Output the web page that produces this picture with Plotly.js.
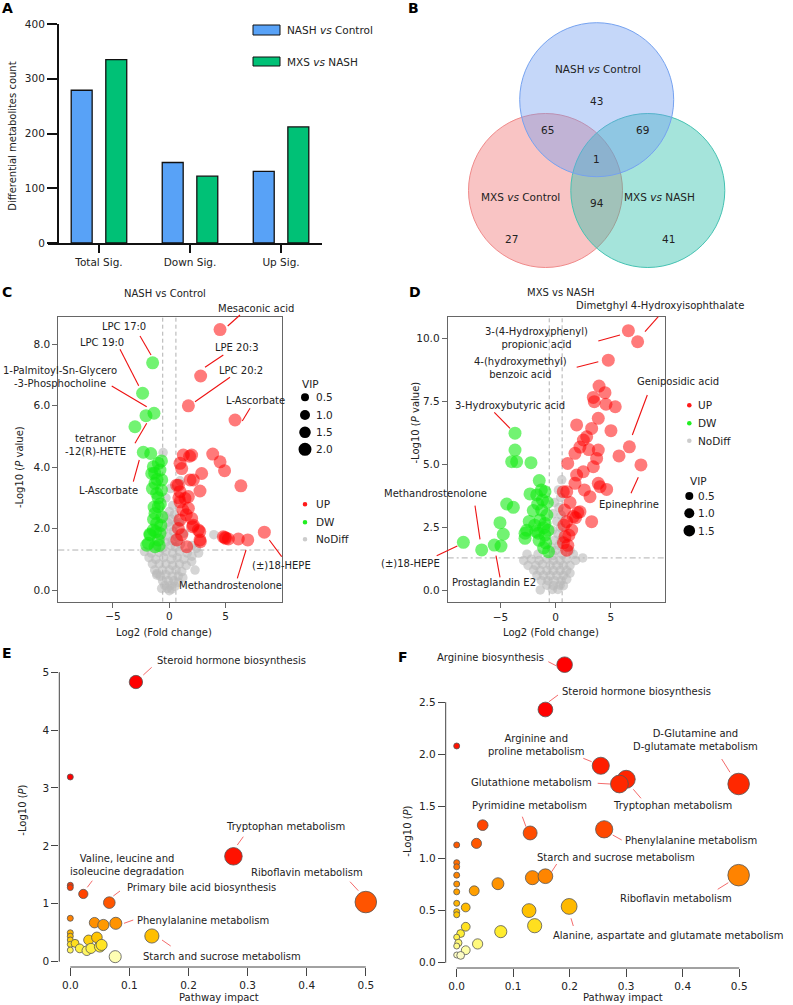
<!DOCTYPE html>
<html><head><meta charset="utf-8">
<script src="https://cdn.plot.ly/plotly-3.0.1.min.js"></script>
<style>html,body{margin:0;padding:0;background:#fff}#chart{width:793px;height:1005px}</style>
</head><body><div id="chart"></div>
<script>
// ================= DATA =================
// Panel A
const barCategories = ['Total Sig.', 'Down Sig.', 'Up Sig.'];
const barSeriesNames = ['NASH <i>vs</i> Control', 'MXS <i>vs</i> NASH'];
const nashVsControlCounts = [279, 147, 131];
const mxsVsNashCounts = [335, 122, 212];

// Panel B (Venn)
const vennSetNames = ['NASH <i>vs</i> Control', 'MXS <i>vs</i> Control', 'MXS <i>vs</i> NASH'];
// order: NASH-only, NASH&MXSctl, NASH&MXSNASH, all three, MXSctl&MXSNASH, MXSctl-only, MXSNASH-only
const vennCounts = [43, 65, 69, 1, 94, 27, 41];

// Panel C volcano: NASH vs Control
const cUpX = [4.5,2.78,1.69,5.83,8.43,3.85,4.5,4.9,6.35,2.87,2.72,1.24,1.98,1.8,0.95,1.1,1.84,0.8,0.95,0.85,1.39,0.95,1.69,1.2,0.95,1.98,2.13,1.5,2.58,2.72,1.54,0.66,0.8,1.1,4.79,4.94,5.24,5.0,6.12,6.96,2.7,2.75,2.07,1.69,2.13,0.65];
const cUpY = [8.47,6.96,5.99,5.53,1.88,4.42,4.17,3.88,3.39,3.79,3.22,4.39,4.39,4.35,4.12,3.95,3.58,3.41,3.2,3.0,2.98,2.87,2.66,2.6,2.28,2.33,2.11,2.45,1.95,1.63,1.41,1.63,2.0,1.8,1.73,1.71,1.66,1.68,1.66,1.63,1.9,1.57,2.06,3.04,3.58,3.41];
const cDwX = [-1.48,-2.37,-2.07,-1.36,-3.05,-2.31,-1.65,-0.98,-1.42,-1.56,-0.83,-1.27,-0.67,-1.12,-0.7,-0.98,-1.27,-0.67,-1.12,-1.42,-1.71,-0.83,-1.86,-1.27,-0.98,-1.72,-2.0,-1.3,-1.0,-0.8,-1.4,-0.75,-1.2,-0.9,-1.5,-1.35,-0.7,-1.1];
const cDwY = [7.39,6.40,5.67,5.75,5.31,4.48,4.44,4.12,4.01,3.79,3.9,3.47,3.58,3.14,3.25,2.71,2.49,2.38,2.17,1.95,1.79,1.84,1.52,1.41,1.63,1.82,1.46,3.8,3.0,2.8,2.3,2.1,1.9,1.45,3.3,2.7,4.2,3.6];
const cNoX = [-0.55,0.95,0.1,-0.3,0.3,0.0,-0.4,0.45,0.2,-0.15,0.6,0.9,0.05,-0.5,0.35,1.3,-0.8,0.7,-0.1,0.25,-0.35,1.0,-1.2,0.55,-0.65,0.1,2.0,3.95,2.4,
  -2.2,-1.6,-0.9,-0.3,0.3,0.9,1.6,2.6,2.0,-1.8,-1.2,-0.5,0.15,0.7,1.3,1.98,-1.5,-0.9,-0.3,0.3,0.9,1.5,2.28,-1.12,-1.3,-0.6,0.0,0.6,1.1,
  -0.8,-0.3,0.25,0.8,1.2,-0.6,-0.1,0.4,0.8,-0.4,0.1,0.5,-0.2,0.2,0.0,-0.68,-1.1];
const cNoY = [4.47,3.55,3.3,3.0,2.75,2.55,2.4,2.45,2.3,2.2,2.15,2.2,2.05,1.95,1.9,1.85,1.7,1.72,1.75,1.6,1.55,1.5,1.42,1.4,1.35,1.45,1.45,1.8,1.35,
  1.25,1.2,1.22,1.25,1.2,1.25,1.2,1.2,1.1,1.05,1.0,1.05,1.0,1.05,1.0,0.93,0.85,0.85,0.85,0.8,0.85,0.8,0.65,0.49,0.65,0.65,0.65,0.65,0.6,
  0.45,0.5,0.45,0.45,0.4,0.3,0.3,0.3,0.25,0.15,0.15,0.12,0.05,0.03,-0.02,0.05,0.54];

// Panel D volcano: MXS vs NASH
const dUpX = [6.59,7.43,4.77,3.93,4.47,3.41,3.5,4.56,5.4,3.86,1.9,3.26,5.01,2.81,2.51,3.86,1.75,6.68,5.74,3.71,1.09,3.41,7.73,2.5,1.9,3.86,4.62,1.75,1.0,3.11,2.2,1.6,1.0,3.26,1.45,0.84,1.0,0.7,4.02,0.69,1.3,0.8,1.2,1.8,0.75,1.1,2.0,2.6,3.0,2.2];
const dUpY = [10.32,9.88,9.15,8.12,7.86,7.67,7.5,7.4,7.3,6.84,6.58,6.44,6.35,6.11,5.98,5.58,5.45,5.71,5.35,5.25,5.05,4.92,4.99,4.72,4.59,4.26,4.02,4.26,3.93,3.73,3.13,2.94,2.74,2.74,2.41,2.14,1.61,1.9,4.13,3.93,3.5,3.2,2.2,2.9,2.6,1.8,3.1,4.0,5.6,5.7];
const dDwX = [-3.69,-3.69,-3.99,-3.54,-2.24,-1.49,-0.97,-2.33,-1.72,-4.44,-3.84,-1.63,-1.27,-2.03,-1.42,-0.97,-5.05,-4.75,-2.78,-1.57,-2.78,-0.97,-4.96,-5.57,-6.71,-8.37,-0.65,-2.63,-1.2,-0.8,-1.9,-1.1,-0.75,-1.5,-0.9,-1.3,-0.7,-2.4,-1.8,-1.1];
const dDwY = [6.25,5.58,5.12,5.12,5.08,4.37,3.93,3.84,3.8,3.44,3.31,3.44,3.2,3.18,2.81,2.67,2.7,2.24,2.28,2.28,2.08,2.2,1.77,1.81,1.62,1.92,1.55,2.4,3.6,3.0,2.6,2.5,3.5,2.0,1.9,4.0,2.4,2.75,2.35,1.7];
const dNoX = [0.55,0.25,0.45,-0.1,0.3,0.5,-0.25,0.1,0.45,-0.3,0.2,0.5,-0.1,0.3,-0.4,0.0,1.3,0.6,-0.2,2.45,-1.6,-2.6,1.6,
  -2.9,-2.2,-1.5,-0.8,-0.2,0.4,1.0,1.8,-2.5,-1.8,-1.2,-0.5,0.1,0.7,1.3,-2.0,-1.4,-0.8,-0.2,0.4,1.0,1.3,
  -1.7,-1.1,-0.5,0.1,0.7,-1.3,-0.7,-0.1,0.5,1.0,-0.8,-0.2,0.4,0.7,-0.3,0.2,-1.4];
const dNoY = [4.4,4.0,3.7,3.5,3.3,3.0,3.05,2.75,2.5,2.4,2.25,2.0,2.0,1.8,1.7,1.6,1.6,1.45,1.4,1.3,1.45,1.45,1.45,
  1.2,1.25,1.2,1.25,1.2,1.2,1.25,1.2,1.0,1.0,1.05,1.0,1.0,1.0,1.0,0.82,0.8,0.8,0.8,0.8,0.8,0.7,
  0.6,0.6,0.6,0.6,0.6,0.4,0.4,0.4,0.4,0.45,0.22,0.2,0.22,0.2,0.05,0.05,0.03];

// Panel E pathway: NASH vs Control
const eImpact = [0.111,0,0.276,0.5,0,0,0.022,0.066,0,0.041,0.056,0.077,0.138,0,0,0,0,0,0.008,0.031,0.045,0.016,0.028,0.035,0.05,0.053,0.076];
const eLogP   = [4.83,3.19,1.82,1.03,1.32,1.28,1.17,1.02,0.75,0.674,0.634,0.663,0.444,0.5,0.44,0.375,0.3,0.2,0.317,0.375,0.42,0.23,0.19,0.23,0.26,0.29,0.087];

// Panel F pathway: MXS vs NASH
const fImpact = [0.191,0.157,0,0.255,0.30,0.288,0.499,0.046,0.130,0.261,0.035,0,0,0,0,0,0,0,0,0,0.073,0.031,0.134,0.157,0.499,0.199,0.128,0.016,0.138,0.078,0.016,0.007,0.037,0,0.003,0.016,0,0,0.007];
const fLogP   = [2.86,2.43,2.08,1.89,1.76,1.715,1.715,1.32,1.245,1.28,1.145,1.13,0.96,0.92,0.84,0.755,0.68,0.57,0.49,0.46,0.758,0.69,0.816,0.83,0.84,0.54,0.5,0.53,0.355,0.298,0.345,0.28,0.18,0.245,0.19,0.12,0.16,0.074,0.07];

const fcThreshold = 0.585;   // |log2 FC|
const pThreshold = 1.301;    // -log10(0.05)

// ================= LAYOUT HELPERS =================
const W = 793, H = 1005;
const FONT = '"DejaVu Sans", Verdana, sans-serif';
const px = x => x / W;
const py = y => 1 - y / H;
function txt(x, y, text, o) {
  return Object.assign({xref:'paper', yref:'paper', x:px(x), y:py(y), text:text, showarrow:false,
    xanchor:'center', yanchor:'middle', font:{family:FONT, size:10, color:'#222'}}, o || {});
}
function seg(x0, y0, x1, y1, color, w) {
  return {type:'line', xref:'paper', yref:'paper', x0:px(x0), y0:py(y0), x1:px(x1), y1:py(y1), line:{color:color, width:w}};
}
function circ(cx, cy, r, fill, lc, lw) {
  return {type:'circle', xref:'paper', yref:'paper', x0:px(cx-r), x1:px(cx+r), y0:py(cy+r), y1:py(cy-r),
    fillcolor:fill, line:{color:lc || fill, width:lw || 0}};
}

// ================= TRACES =================
const traces = [];
traces.push({type:'bar', name:barSeriesNames[0], x:barCategories, y:nashVsControlCounts, xaxis:'x', yaxis:'y',
  width:0.23, offset:-0.305, marker:{color:'#58a2f7', line:{color:'#111', width:1.3}}, showlegend:false});
traces.push({type:'bar', name:barSeriesNames[1], x:barCategories, y:mxsVsNashCounts, xaxis:'x', yaxis:'y',
  width:0.23, offset:0.075, marker:{color:'#00c176', line:{color:'#111', width:1.3}}, showlegend:false});

// placeholder trace for Venn axes
traces.push({type:'scatter', x:[400], y:[0], xaxis:'x2', yaxis:'y2', mode:'markers', marker:{size:1, color:'rgba(0,0,0,0)'}, showlegend:false, hoverinfo:'skip'});

function volcano(noX, noY, dwX, dwY, upX, upY, xa, ya) {
  return [
    {type:'scatter', mode:'markers', x:noX, y:noY, xaxis:xa, yaxis:ya, name:'NoDiff', showlegend:false,
      marker:{size:9.5, color:'rgba(185,185,185,0.6)', opacity:1}, cliponaxis:false},
    {type:'scatter', mode:'markers', x:dwX, y:dwY, xaxis:xa, yaxis:ya, name:'DW', showlegend:false,
      marker:{size:13, color:'rgba(20,235,20,0.6)', opacity:1}, cliponaxis:false},
    {type:'scatter', mode:'markers', x:upX, y:upY, xaxis:xa, yaxis:ya, name:'UP', showlegend:false,
      marker:{size:13, color:'rgba(255,0,0,0.52)', opacity:1}, cliponaxis:false}
  ];
}
traces.push(...volcano(cNoX, cNoY, cDwX, cDwY, cUpX, cUpY, 'x3', 'y3'));
traces.push(...volcano(dNoX, dNoY, dDwX, dDwY, dUpX, dUpY, 'x4', 'y4'));

const heat = [[0,'#fbfbea'],[0.05,'#ffffa8'],[0.12,'#ffee30'],[0.2,'#ffc400'],[0.3,'#ff9a00'],[0.4,'#ff6c00'],[0.55,'#ff4400'],[0.75,'#ff2200'],[1,'#ff0000']];
function pathway(xs, ys, xa, ya, cmax) {
  return {type:'scatter', mode:'markers', x:xs, y:ys, xaxis:xa, yaxis:ya, showlegend:false, cliponaxis:false,
    marker:{size:xs.map(v => 6 + 22*Math.sqrt(v)), opacity:1, color:ys, colorscale:heat, cmin:0, cmax:cmax,
      showscale:false, line:{color:'#555', width:0.8}}};
}
traces.push(pathway(eImpact, eLogP, 'x5', 'y5', 2.1));
traces.push(pathway(fImpact, fLogP, 'x6', 'y6', 2.4));

// ================= AXES =================
const tickF = {family:FONT, size:10.5, color:'#222'};
const boxAxis = (dom, range, anchor, tv, fmt) => ({domain:dom, range:range, anchor:anchor, showline:true, mirror:true,
  linecolor:'#666', linewidth:1, ticks:'outside', ticklen:5, tickcolor:'#666', tickvals:tv, tickformat:fmt,
  showgrid:false, zeroline:false, tickfont:tickF});
const openAxis = (dom, range, anchor, tv, fmt, tl) => ({domain:dom, range:range, anchor:anchor, showline:false,
  ticks:'outside', ticklen:tl, tickcolor:'#444', tickvals:tv, tickformat:fmt, showgrid:false, zeroline:false, tickfont:tickF});

const layout = {
  width:W, height:H, margin:{l:0, r:0, t:0, b:0}, paper_bgcolor:'#fff', plot_bgcolor:'rgba(0,0,0,0)',
  font:{family:FONT, size:10, color:'#222'}, barmode:'overlay', showlegend:false,
  xaxis:{domain:[px(48), px(322)], range:[-0.56, 2.45], anchor:'y', type:'category', showline:true, linecolor:'#111',
    linewidth:2, ticks:'outside', ticklen:8, tickwidth:2, tickcolor:'#111', showgrid:false, zeroline:false, tickfont:tickF},
  yaxis:{domain:[py(243), py(24)], range:[0, 400], anchor:'free', position:px(58), showline:true, linecolor:'#111',
    linewidth:2, ticks:'outside', ticklen:10, tickwidth:2, tickcolor:'#111', dtick:100, showgrid:false, zeroline:false, tickfont:tickF},
  xaxis2:{domain:[px(400), 1], range:[400, 793], anchor:'y2', visible:false, fixedrange:true},
  yaxis2:{domain:[py(270), 1], range:[270, 0], anchor:'x2', visible:false, fixedrange:true},
  xaxis3:boxAxis([px(58.3), px(281.7)], [-9.85, 9.97], 'y3', [-5,0,5], 'd'),
  yaxis3:boxAxis([py(601.7), py(317.3)], [-0.38, 8.87], 'x3', [0,2,4,6,8], '.1f'),
  xaxis4:boxAxis([px(447.7), px(665)], [-9.79, 9.91], 'y4', [-5,0,5], 'd'),
  yaxis4:boxAxis([py(602.3), py(317.3)], [-0.46, 10.85], 'x4', [0,2.5,5,7.5,10], '.1f'),
  xaxis5:openAxis([px(59.3), px(380)], [-0.0186, 0.524], 'y5', [0,0.1,0.2,0.3,0.4,0.5], '.1f', 8),
  yaxis5:openAxis([py(967), py(650)], [-0.0915, 5.383], 'x5', [0,1,2,3,4,5], 'd', 7),
  xaxis6:openAxis([px(445.7), px(760)], [-0.01947, 0.5368], 'y6', [0,0.1,0.2,0.3,0.4,0.5], '.1f', 8),
  yaxis6:openAxis([py(968), py(640)], [-0.0509, 3.097], 'x6', [0,0.5,1,1.5,2,2.5], '.1f', 7),
  shapes:[], annotations:[]
};
const S = layout.shapes, A = layout.annotations;

// ---- Panel A legend & titles
S.push({type:'rect', xref:'paper', yref:'paper', x0:px(253), x1:px(280), y0:py(35), y1:py(25), fillcolor:'#58a2f7', line:{color:'#111', width:1}});
S.push({type:'rect', xref:'paper', yref:'paper', x0:px(253), x1:px(280), y0:py(66), y1:py(57), fillcolor:'#00c176', line:{color:'#111', width:1}});
A.push(txt(285, 30.5, barSeriesNames[0], {xanchor:'left', font:{family:FONT, size:10.5, color:'#222'}}));
A.push(txt(285, 61.5, barSeriesNames[1], {xanchor:'left', font:{family:FONT, size:10.5, color:'#222'}}));
A.push(txt(13, 136.7, 'Differential metabolites count', {textangle:-90, font:{family:FONT, size:10, color:'#222'}}));

// ---- Panel B Venn
const vennCircles = [ // cx, cy, r (in panel pixel units), fill, edge
  [545.5, 190.5, 77, 'rgba(240,100,100,0.38)', '#f08a8a'],
  [647.8, 190.5, 77, 'rgba(40,190,170,0.42)', '#45c2b2'],
  [596.7, 99.7, 77, 'rgba(110,155,240,0.40)', '#75a2f0']
];
vennCircles.forEach(c => S.push({type:'circle', xref:'x2', yref:'y2', x0:c[0]-c[2], x1:c[0]+c[2], y0:c[1]-c[2], y1:c[1]+c[2],
  fillcolor:c[3], line:{color:c[4], width:1}, layer:'below'}));
const vennSetPos = [[598, 69], [520, 196.7], [659.3, 196.7]];
const vennCountPos = [[596.7, 101], [547.3, 130], [642.7, 130], [596.7, 159.3], [596.7, 203.3], [511.7, 239.3], [668.7, 239.3]];
vennSetNames.forEach((t, i) => A.push({xref:'x2', yref:'y2', x:vennSetPos[i][0], y:vennSetPos[i][1], text:t, showarrow:false,
  font:{family:FONT, size:10.5, color:'#222'}}));
vennCounts.forEach((v, i) => A.push({xref:'x2', yref:'y2', x:vennCountPos[i][0], y:vennCountPos[i][1], text:String(v), showarrow:false,
  font:{family:FONT, size:10.5, color:'#222'}}));

// ---- threshold lines C & D
[['x3','y3'],['x4','y4']].forEach(([xa, ya]) => {
  [-fcThreshold, fcThreshold].forEach(v => S.push({type:'line', xref:xa, yref:ya+' domain', x0:v, x1:v, y0:0, y1:1,
    line:{color:'#b0b0b0', width:1, dash:'4px,3px'}, layer:'below'}));
  S.push({type:'line', xref:xa+' domain', yref:ya, x0:0, x1:1, y0:pThreshold, y1:pThreshold,
    line:{color:'#b0b0b0', width:1, dash:'6px,3px,2px,3px'}, layer:'below'});
});

// ---- E/F offset axis lines
S.push({type:'line', xref:'x5 domain', yref:'y5', x0:0, x1:0, y0:0, y1:5, line:{color:'#444', width:1}});
S.push({type:'line', xref:'x5', yref:'y5 domain', x0:0, x1:0.5, y0:0, y1:0, line:{color:'#444', width:1}});
S.push({type:'line', xref:'x6 domain', yref:'y6', x0:0, x1:0, y0:0, y1:2.5, line:{color:'#444', width:1}});
S.push({type:'line', xref:'x6', yref:'y6 domain', x0:0, x1:0.5, y0:0, y1:0, line:{color:'#444', width:1}});

// ---- panel letters
[['A',7,8],['B',413,8],['C',7,292],['D',415,292],['E',7,652.7],['F',403,657]].forEach(l =>
  A.push(txt(l[1], l[2], '<b>'+l[0]+'</b>', {font:{family:FONT, size:14, color:'#000'}})));

// ---- titles / axis titles
A.push(txt(165, 293.3, 'NASH vs Control'));
A.push(txt(560.7, 292.3, 'MXS vs NASH'));
A.push(txt(163.7, 632.7, 'Log2 (Fold change)'));
A.push(txt(550.7, 632.3, 'Log2 (Fold change)'));
A.push(txt(20, 467, '-Log10 (<i>P</i> value)', {textangle:-90}));
A.push(txt(415, 422.5, '-Log10 (<i>P</i> value)', {textangle:-90}));
A.push(txt(21.7, 810, '-Log10 (<i>P</i>)', {textangle:-90}));
A.push(txt(406.7, 831, '-Log10 (<i>P</i>)', {textangle:-90}));
A.push(txt(219, 997.7, 'Pathway impact'));
A.push(txt(622.7, 997.7, 'Pathway impact'));

// ---- volcano legends
function volcLegend(dotX, txtX, colorYs, vipTitle, vipYs, vipLabels, vipR) {
  const cols = [['UP','#ff1a1a'],['DW','#22ee22'],['NoDiff','#cccccc']];
  cols.forEach((c, i) => { S.push(circ(dotX, colorYs[i], 2.3, c[1])); A.push(txt(txtX, colorYs[i], c[0], {xanchor:'left', font:{family:FONT, size:10.5, color:'#222'}})); });
  A.push(txt(vipTitle[0], vipTitle[1], 'VIP', {font:{family:FONT, size:10.5, color:'#222'}}));
  vipYs.forEach((y, i) => { S.push(circ(dotX, y, vipR[i], '#000')); A.push(txt(txtX, y, vipLabels[i], {xanchor:'left', font:{family:FONT, size:10.5, color:'#222'}})); });
}
volcLegend(305, 313.5, [504.3, 522.3, 539.3], [310, 384], [397.3, 415, 432.3, 449.3], ['0.5','1.0','1.5','2.0'], [4, 5, 5.8, 6.5]);
volcLegend(689.3, 695.5, [405.3, 423.3, 440.7], [698.3, 480.7], [496, 513.3, 530.7], ['0.5','1.0','1.5'], [4, 5, 5.8]);

// ---- labels with leader lines
const cLabels = [
  ['Mesaconic acid', 255.7, 309, 240, 315, 227.7, 326],
  ['LPC 17:0', 124, 326.7, 140, 336, 151, 355],
  ['LPC 19:0', 102.3, 342.7, 120, 349.3, 138.7, 385.7],
  ['1-Palmitoyl-Sn-Glycero<br>-3-Phosphocholine', 59.5, 377, 111.7, 386, 146.7, 406.7],
  ['LPE 20:3', 236.7, 347.7, 223.3, 355, 205, 367.3],
  ['LPC 20:2', 241, 370, 230, 377.3, 195, 401.7],
  ['L-Ascorbate', 255.7, 401, 250, 408.3, 242.3, 421],
  ['tetranor<br>-12(R)-HETE', 95, 445.5, 135, 443.3, 146.7, 423.3],
  ['L-Ascorbate', 108.3, 490, 133.3, 481.7, 139.3, 460],
  ['(±)18-HEPE', 281, 565, 281.7, 556.7, 269.3, 540],
  ['Methandrostenolone', 230.7, 585, 237.3, 578.3, 246, 550]
];
const dLabels = [
  ['Dimetghyl 4-Hydroxyisophthalate', 660, 305, 658.3, 316.7, 645, 331.7],
  ['3-(4-Hydroxyphenyl)<br>propionic acid', 536.7, 338, 598.3, 341, 620, 335],
  ['4-(hydroxymethyl)<br>benzoic acid', 520, 367.5, 576.7, 367.3, 598.3, 361.7],
  ['Geniposidic acid', 678.3, 381.7, 647.3, 395, 632.3, 435],
  ['3-Hydroxybutyric acid', 510, 405, 494.3, 412.3, 510, 428.3],
  ['Epinephrine', 629.3, 504.3, 631, 493.3, 638.3, 477.3],
  ['Methandrostenolone', 435.5, 493.3, 475, 505.7, 480, 539.3],
  ['(±)18-HEPE', 411, 563.3, 436.7, 555.7, 457.3, 546],
  ['Prostaglandin E2', 494.3, 582.7, 500, 577.3, 496, 555.7]
];
const eLabels = [
  ['Steroid hormone biosynthesis', 231, 660.7, 151.7, 667.3, 143.3, 675],
  ['Tryptophan metabolism', 285.7, 826.7, 243.3, 836.7, 237.3, 845],
  ['Riboflavin metabolism', 306.7, 872.3, 350, 881.7, 358.3, 890.7],
  ['Valine, leucine and<br>isoleucine degradation', 126.7, 865.3, 92.3, 880.7, 87.3, 887.3],
  ['Primary bile acid biosynthesis', 201.7, 887.7, 120, 891, 113.3, 896],
  ['Phenylalanine metabolism', 203.3, 920, 133.3, 920, 124, 923.3],
  ['Starch and sucrose metabolism', 222.3, 956.7, 170.7, 946, 162, 940]
];
const fLabels = [
  ['Arginine biosynthesis', 490.7, 657, 548.3, 661.7, 556.7, 666],
  ['Steroid hormone biosynthesis', 636.7, 691.7, 558, 695, 549, 701.7],
  ['Arginine and<br>proline metabolism', 536.7, 745, 583.3, 758.3, 591.7, 761.7],
  ['D-Glutamine and<br>D-glutamate metabolism', 695, 740.2, 721.7, 759, 730, 772.3],
  ['Glutathione metabolism', 531.7, 782.7, 597.7, 783.3, 610, 784],
  ['Tryptophan metabolism', 672.7, 805.7, 641, 798.3, 633.3, 789.3],
  ['Pyrimidine metabolism', 529.3, 805, 522.3, 816.7, 526, 826.7],
  ['Phenylalanine metabolism', 691, 840.7, 612.7, 835, 621.7, 840],
  ['Starch and sucrose metabolism', 616, 857.3, 556.7, 864, 551.7, 871.7],
  ['Riboflavin metabolism', 676, 898.3, 717.7, 889.3, 728.3, 882.7],
  ['Alanine, aspartate and glutamate metabolism', 668.3, 935, 573.3, 926, 571, 918.3]
];
cLabels.concat(dLabels).forEach(l => { A.push(txt(l[1], l[2], l[0])); S.push(seg(l[3], l[4], l[5], l[6], '#ee1111', 1.1)); });
eLabels.concat(fLabels).forEach(l => { A.push(txt(l[1], l[2], l[0])); S.push(seg(l[3], l[4], l[5], l[6], '#f25a5a', 0.9)); });

Plotly.newPlot('chart', traces, layout, {displayModeBar:false, staticPlot:true});
</script></body></html>
